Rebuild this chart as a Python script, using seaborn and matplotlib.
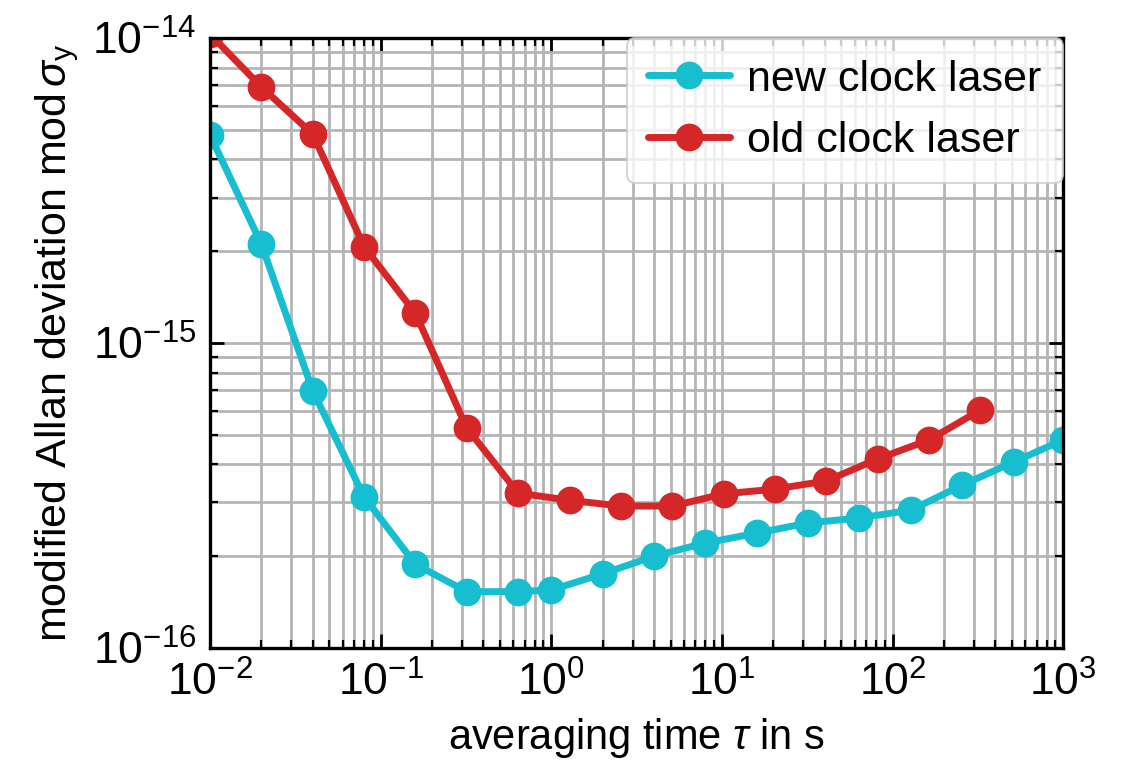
import numpy as np
import pandas as pd
import matplotlib
matplotlib.use("Agg")
import matplotlib.pyplot as plt
import seaborn as sns

# Data
tau_new = [0.01, 0.02, 0.04, 0.08, 0.16, 0.32, 0.64, 1, 2, 4, 8, 16, 32, 64, 128, 256, 512, 1000]
adev_new = [4.81e-15, 2.11e-15, 6.97e-16, 3.13e-16, 1.88e-16, 1.53e-16, 1.53e-16, 1.55e-16,
            1.75e-16, 2.00e-16, 2.21e-16, 2.38e-16, 2.57e-16, 2.67e-16, 2.83e-16, 3.42e-16,
            4.07e-16, 4.81e-16]
tau_old = [0.01, 0.02, 0.04, 0.08, 0.16, 0.32, 0.64, 1.28, 2.56, 5.12, 10.24, 20.48, 40.96,
           81.92, 163.84, 327.68]
adev_old = [1.03e-14, 6.91e-15, 4.84e-15, 2.07e-15, 1.25e-15, 5.26e-16, 3.22e-16, 3.05e-16,
            2.92e-16, 2.92e-16, 3.20e-16, 3.32e-16, 3.53e-16, 4.17e-16, 4.81e-16, 6.03e-16]
labels = ["new clock laser", "old clock laser"]
colors = ["#17becf", "#d62728"]

df = pd.concat([
    pd.DataFrame({"tau": tau_new, "adev": adev_new, "series": labels[0]}),
    pd.DataFrame({"tau": tau_old, "adev": adev_old, "series": labels[1]}),
])

sns.set_theme(style="white")
plt.rcParams["font.family"] = ["Liberation Sans", "DejaVu Sans"]
plt.rcParams["mathtext.fontset"] = "custom"
plt.rcParams["mathtext.rm"] = "Liberation Sans"
plt.rcParams["mathtext.it"] = "Liberation Sans:italic"
plt.rcParams["mathtext.default"] = "regular"
for k in ["text.color", "axes.labelcolor", "xtick.color", "ytick.color"]:
    plt.rcParams[k] = "black"

fig = plt.figure(figsize=(11.25, 7.81), dpi=100)
ax = fig.add_axes([0.1867, 0.1703, 0.7583, 0.7810])

sns.lineplot(data=df, x="tau", y="adev", hue="series", palette=colors,
             marker="o", markersize=20, linewidth=5, markeredgewidth=0,
             ax=ax, estimator=None, sort=False)

ax.set_xscale("log")
ax.set_yscale("log")
ax.set_xlim(1e-2, 1e3)
ax.set_ylim(1e-16, 1e-14)

ax.grid(True, which="both", color="#b4b4b4", linewidth=2.0)
ax.set_axisbelow(True)
for s in ax.spines.values():
    s.set_color("black")
    s.set_linewidth(2.4)
ax.tick_params(which="both", direction="in", top=True, right=True, bottom=True, left=True,
               labelsize=32, color="black")
ax.tick_params(which="major", length=10, width=2, pad=10)
ax.tick_params(which="minor", length=6, width=1.6)

ax.set_xlabel(r"averaging time $\mathit{\tau}$ in s", fontsize=30, labelpad=8)
ax.set_ylabel(r"modified Allan deviation mod$\,\mathit{\sigma}_\mathrm{y}$", fontsize=31, labelpad=8)

leg = ax.legend(loc="upper right", fontsize=31, frameon=True, framealpha=0.8,
                borderaxespad=0.0, handlelength=1.9, handletextpad=0.4,
                borderpad=0.5, labelspacing=0.5)
leg.get_frame().set_edgecolor("#cccccc")
leg.get_frame().set_linewidth(1.5)

fig.savefig("out.png", dpi=100)
